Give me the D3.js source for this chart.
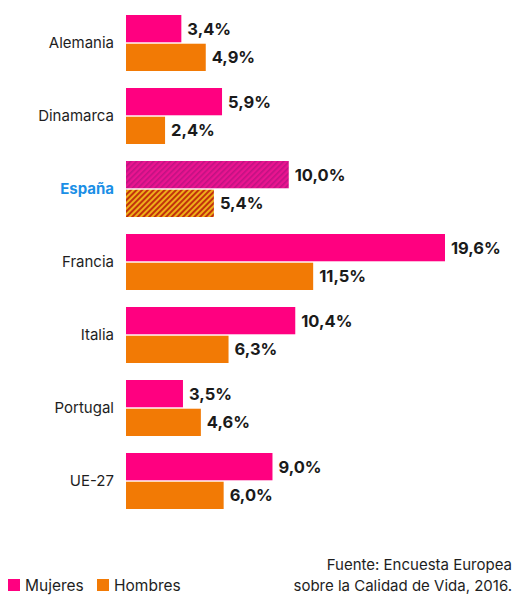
<!DOCTYPE html>
<html>
<head>
<meta charset="utf-8">
<script src="https://cdn.jsdelivr.net/npm/d3@7"></script>
<style>
  body { margin: 0; background: #fff; }
  svg { display: block; }
</style>
</head>
<body>
<div id="chart"></div>
<script>
const countries = ['Alemania', 'Dinamarca', 'España', 'Francia', 'Italia', 'Portugal', 'UE-27'];
const mujeres = [3.4, 5.9, 10.0, 19.6, 10.4, 3.5, 9.0];
const hombres = [4.9, 2.4, 5.4, 11.5, 6.3, 4.6, 6.0];
const series = ['Mujeres', 'Hombres'];
const highlight = 'España';
const sourceLines = ['Fuente: Encuesta Europea', 'sobre la Calidad de Vida, 2016.'];

const width = 515, height = 596;
const pink = '#ff0080', orange = '#f27a05';
const font = 'Inter, "Noto Sans", sans-serif';

const svg = d3.select('#chart').append('svg')
    .attr('width', width)
    .attr('height', height);

// striped patterns for the highlighted country
const defs = svg.append('defs');
function stripes(id, base, stripe, w) {
    const p = defs.append('pattern')
        .attr('id', id)
        .attr('patternUnits', 'userSpaceOnUse')
        .attr('width', 4).attr('height', 4)
        .attr('patternTransform', 'rotate(45)');
    p.append('rect').attr('width', 4).attr('height', 4).attr('fill', base);
    p.append('rect').attr('width', w).attr('height', 4).attr('fill', stripe);
}
stripes('hatchM', '#ea1490', '#c01282', 1.6);
stripes('hatchH', '#eeae1a', '#c2320c', 2);

const x = d3.scaleLinear().domain([0, 19.6]).range([126, 445]);
const y = d3.scaleBand().domain(countries).range([15, 509]).paddingInner(17 / 73).paddingOuter(0);
const sub = d3.scaleBand().domain(series).range([0, y.bandwidth()]).paddingInner(0.05);

const data = countries.map((c, i) => ({ country: c, values: [mujeres[i], hombres[i]] }));

const g = svg.selectAll('.group')
    .data(data)
    .join('g')
    .attr('class', 'group')
    .attr('transform', d => `translate(0,${y(d.country)})`);

g.append('text')
    .attr('x', 114)
    .attr('y', y.bandwidth() / 2)
    .attr('dy', '0.35em')
    .attr('text-anchor', 'end')
    .attr('font-family', font)
    .attr('font-size', 15)
    .attr('font-weight', d => d.country === highlight ? 700 : 400)
    .attr('fill', d => d.country === highlight ? '#1b8fe6' : '#1e1e1e')
    .text(d => d.country);

const bars = g.selectAll('.bar')
    .data(d => d.values.map((v, j) => ({ country: d.country, key: series[j], value: v })))
    .join('g')
    .attr('class', 'bar');

bars.append('rect')
    .attr('x', x(0))
    .attr('y', d => sub(d.key))
    .attr('width', d => x(d.value) - x(0))
    .attr('height', sub.bandwidth())
    .attr('fill', d => {
        if (d.country === highlight) return d.key === 'Mujeres' ? 'url(#hatchM)' : 'url(#hatchH)';
        return d.key === 'Mujeres' ? pink : orange;
    });

bars.append('text')
    .attr('x', d => x(d.value) + 6)
    .attr('y', d => sub(d.key) + sub.bandwidth() / 2)
    .attr('dy', '0.36em')
    .attr('font-family', font)
    .attr('font-size', 16.5)
    .attr('font-weight', 700)
    .attr('fill', '#1a1a1a')
    .text(d => d3.format('.1f')(d.value).replace('.', ',') + '%');

// legend
const legend = svg.append('g').attr('transform', 'translate(8,579)');
const items = legend.selectAll('g')
    .data(series)
    .join('g')
    .attr('transform', (d, i) => `translate(${i * 89},0)`);
items.append('rect')
    .attr('width', 12).attr('height', 12)
    .attr('fill', d => d === 'Mujeres' ? pink : orange);
items.append('text')
    .attr('x', 17)
    .attr('y', 12)
    .attr('font-family', font)
    .attr('font-size', 15.5)
    .attr('fill', '#1e1e1e')
    .text(d => d);

// source
svg.append('g').selectAll('text')
    .data(sourceLines)
    .join('text')
    .attr('x', 512)
    .attr('y', (d, i) => 570 + i * 21)
    .attr('text-anchor', 'end')
    .attr('font-family', font)
    .attr('font-size', 15)
    .attr('fill', '#1e1e1e')
    .text(d => d);
</script>
</body>
</html>
